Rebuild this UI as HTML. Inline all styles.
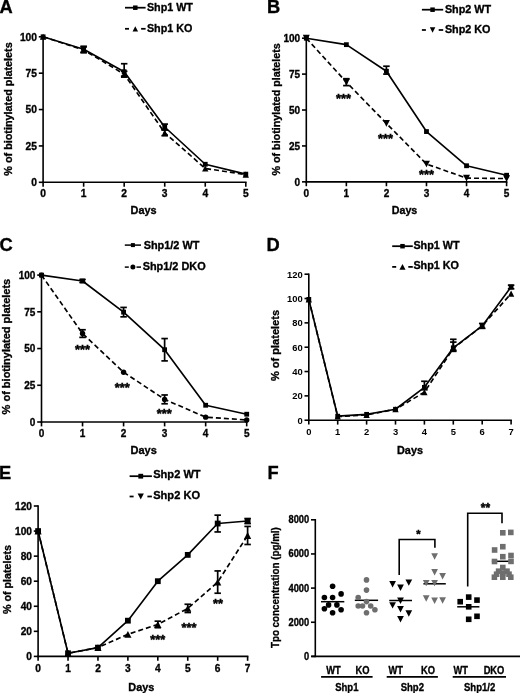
<!DOCTYPE html>
<html><head><meta charset="utf-8"><style>
html,body{margin:0;padding:0;background:#fff;}
svg{display:block;font-family:"Liberation Sans", sans-serif;filter:grayscale(1);}
</style></head><body>
<svg width="520" height="693" viewBox="0 0 520 693">
<rect width="520" height="693" fill="#fff"/>
<line x1="43.10" y1="36.00" x2="43.10" y2="183.10" stroke="#000" stroke-width="1.6"/>
<line x1="42.30" y1="182.30" x2="246.60" y2="182.30" stroke="#000" stroke-width="1.6"/>
<line x1="38.80" y1="182.30" x2="43.10" y2="182.30" stroke="#000" stroke-width="1.6"/>
<text x="37.00" y="186.03" font-size="10.8" text-anchor="end" font-weight="bold" fill="#000" stroke="#000" stroke-width="0.33" textLength="5.71" lengthAdjust="spacingAndGlyphs">0</text>
<line x1="38.80" y1="145.93" x2="43.10" y2="145.93" stroke="#000" stroke-width="1.6"/>
<text x="37.00" y="149.65" font-size="10.8" text-anchor="end" font-weight="bold" fill="#000" stroke="#000" stroke-width="0.33" textLength="11.41" lengthAdjust="spacingAndGlyphs">25</text>
<line x1="38.80" y1="109.55" x2="43.10" y2="109.55" stroke="#000" stroke-width="1.6"/>
<text x="37.00" y="113.28" font-size="10.8" text-anchor="end" font-weight="bold" fill="#000" stroke="#000" stroke-width="0.33" textLength="11.41" lengthAdjust="spacingAndGlyphs">50</text>
<line x1="38.80" y1="73.18" x2="43.10" y2="73.18" stroke="#000" stroke-width="1.6"/>
<text x="37.00" y="76.90" font-size="10.8" text-anchor="end" font-weight="bold" fill="#000" stroke="#000" stroke-width="0.33" textLength="11.41" lengthAdjust="spacingAndGlyphs">75</text>
<line x1="38.80" y1="36.80" x2="43.10" y2="36.80" stroke="#000" stroke-width="1.6"/>
<text x="37.00" y="40.53" font-size="10.8" text-anchor="end" font-weight="bold" fill="#000" stroke="#000" stroke-width="0.33" textLength="17.12" lengthAdjust="spacingAndGlyphs">100</text>
<line x1="43.10" y1="182.30" x2="43.10" y2="186.70" stroke="#000" stroke-width="1.6"/>
<text x="43.10" y="196.70" font-size="10.8" text-anchor="middle" font-weight="bold" fill="#000" stroke="#000" stroke-width="0.33" textLength="5.71" lengthAdjust="spacingAndGlyphs">0</text>
<line x1="83.64" y1="182.30" x2="83.64" y2="186.70" stroke="#000" stroke-width="1.6"/>
<text x="83.64" y="196.70" font-size="10.8" text-anchor="middle" font-weight="bold" fill="#000" stroke="#000" stroke-width="0.33" textLength="5.71" lengthAdjust="spacingAndGlyphs">1</text>
<line x1="124.18" y1="182.30" x2="124.18" y2="186.70" stroke="#000" stroke-width="1.6"/>
<text x="124.18" y="196.70" font-size="10.8" text-anchor="middle" font-weight="bold" fill="#000" stroke="#000" stroke-width="0.33" textLength="5.71" lengthAdjust="spacingAndGlyphs">2</text>
<line x1="164.72" y1="182.30" x2="164.72" y2="186.70" stroke="#000" stroke-width="1.6"/>
<text x="164.72" y="196.70" font-size="10.8" text-anchor="middle" font-weight="bold" fill="#000" stroke="#000" stroke-width="0.33" textLength="5.71" lengthAdjust="spacingAndGlyphs">3</text>
<line x1="205.26" y1="182.30" x2="205.26" y2="186.70" stroke="#000" stroke-width="1.6"/>
<text x="205.26" y="196.70" font-size="10.8" text-anchor="middle" font-weight="bold" fill="#000" stroke="#000" stroke-width="0.33" textLength="5.71" lengthAdjust="spacingAndGlyphs">4</text>
<line x1="245.80" y1="182.30" x2="245.80" y2="186.70" stroke="#000" stroke-width="1.6"/>
<text x="245.80" y="196.70" font-size="10.8" text-anchor="middle" font-weight="bold" fill="#000" stroke="#000" stroke-width="0.33" textLength="5.71" lengthAdjust="spacingAndGlyphs">5</text>
<line x1="83.64" y1="46.26" x2="83.64" y2="52.08" stroke="#000" stroke-width="1.7"/>
<line x1="80.39" y1="46.26" x2="86.89" y2="46.26" stroke="#000" stroke-width="1.7"/>
<line x1="80.39" y1="52.08" x2="86.89" y2="52.08" stroke="#000" stroke-width="1.7"/>
<line x1="124.18" y1="63.72" x2="124.18" y2="76.08" stroke="#000" stroke-width="1.7"/>
<line x1="120.93" y1="63.72" x2="127.43" y2="63.72" stroke="#000" stroke-width="1.7"/>
<line x1="120.93" y1="76.08" x2="127.43" y2="76.08" stroke="#000" stroke-width="1.7"/>
<line x1="164.72" y1="124.10" x2="164.72" y2="129.92" stroke="#000" stroke-width="1.7"/>
<line x1="161.47" y1="124.10" x2="167.97" y2="124.10" stroke="#000" stroke-width="1.7"/>
<line x1="161.47" y1="129.92" x2="167.97" y2="129.92" stroke="#000" stroke-width="1.7"/>
<polyline points="43.10,36.80 83.64,49.17 124.18,71.72 164.72,127.01 205.26,164.26 245.80,174.15" fill="none" stroke="#000" stroke-width="1.65" stroke-linejoin="round"/>
<rect x="40.70" y="34.40" width="4.80" height="4.80" fill="#000"/>
<rect x="81.24" y="46.77" width="4.80" height="4.80" fill="#000"/>
<rect x="121.78" y="69.32" width="4.80" height="4.80" fill="#000"/>
<rect x="162.32" y="124.61" width="4.80" height="4.80" fill="#000"/>
<rect x="202.86" y="161.86" width="4.80" height="4.80" fill="#000"/>
<rect x="243.40" y="171.75" width="4.80" height="4.80" fill="#000"/>
<line x1="83.64" y1="46.99" x2="83.64" y2="52.81" stroke="#000" stroke-width="1.7"/>
<line x1="80.39" y1="46.99" x2="86.89" y2="46.99" stroke="#000" stroke-width="1.7"/>
<line x1="80.39" y1="52.81" x2="86.89" y2="52.81" stroke="#000" stroke-width="1.7"/>
<line x1="124.18" y1="71.28" x2="124.18" y2="77.10" stroke="#000" stroke-width="1.7"/>
<line x1="120.93" y1="71.28" x2="127.43" y2="71.28" stroke="#000" stroke-width="1.7"/>
<line x1="120.93" y1="77.10" x2="127.43" y2="77.10" stroke="#000" stroke-width="1.7"/>
<line x1="164.72" y1="129.92" x2="164.72" y2="135.74" stroke="#000" stroke-width="1.7"/>
<line x1="161.47" y1="129.92" x2="167.97" y2="129.92" stroke="#000" stroke-width="1.7"/>
<line x1="161.47" y1="135.74" x2="167.97" y2="135.74" stroke="#000" stroke-width="1.7"/>
<polyline points="43.10,36.80 83.64,49.90 124.18,74.19 164.72,132.83 205.26,168.48 245.80,174.59" fill="none" stroke="#000" stroke-width="1.65" stroke-linejoin="round" stroke-dasharray="5,3"/>
<polygon points="43.10,33.75 46.28,39.85 39.92,39.85" fill="#000"/>
<polygon points="83.64,46.85 86.82,52.94 80.46,52.94" fill="#000"/>
<polygon points="124.18,71.15 127.36,77.24 121.00,77.24" fill="#000"/>
<polygon points="164.72,129.78 167.90,135.88 161.54,135.88" fill="#000"/>
<polygon points="205.26,165.43 208.44,171.53 202.08,171.53" fill="#000"/>
<polygon points="245.80,171.54 248.98,177.64 242.62,177.64" fill="#000"/>
<text x="11.60" y="109.00" font-size="11.5" text-anchor="middle" font-weight="bold" fill="#000" stroke="#000" stroke-width="0.33" transform="rotate(-90 11.60 109.00)" textLength="133.34" lengthAdjust="spacingAndGlyphs">% of biotinylated platelets</text>
<text x="143.60" y="214.30" font-size="10.9" text-anchor="middle" font-weight="bold" fill="#000" stroke="#000" stroke-width="0.33">Days</text>
<text x="-0.45" y="12.80" font-size="18.3" text-anchor="start" font-weight="bold" fill="#000" stroke="#000" stroke-width="0.33">A</text>
<line x1="125.00" y1="7.70" x2="145.60" y2="7.70" stroke="#000" stroke-width="1.75"/>
<rect x="133.05" y="5.45" width="4.50" height="4.50" fill="#000"/>
<text x="146.90" y="10.60" font-size="11.1" text-anchor="start" font-weight="bold" fill="#000" stroke="#000" stroke-width="0.33" textLength="46.05" lengthAdjust="spacingAndGlyphs">Shp1 WT</text>
<line x1="125.00" y1="28.80" x2="129.00" y2="28.80" stroke="#000" stroke-width="1.75"/>
<line x1="141.10" y1="28.80" x2="145.60" y2="28.80" stroke="#000" stroke-width="1.75"/>
<polygon points="135.30,26.16 138.06,31.45 132.54,31.45" fill="#000"/>
<text x="146.90" y="31.70" font-size="11.1" text-anchor="start" font-weight="bold" fill="#000" stroke="#000" stroke-width="0.33" textLength="45.47" lengthAdjust="spacingAndGlyphs">Shp1 KO</text>
<line x1="306.30" y1="37.40" x2="306.30" y2="182.65" stroke="#000" stroke-width="1.6"/>
<line x1="305.50" y1="181.85" x2="507.40" y2="181.85" stroke="#000" stroke-width="1.6"/>
<line x1="302.00" y1="181.85" x2="306.30" y2="181.85" stroke="#000" stroke-width="1.6"/>
<text x="300.20" y="185.58" font-size="10.8" text-anchor="end" font-weight="bold" fill="#000" stroke="#000" stroke-width="0.33" textLength="5.59" lengthAdjust="spacingAndGlyphs">0</text>
<line x1="302.00" y1="145.94" x2="306.30" y2="145.94" stroke="#000" stroke-width="1.6"/>
<text x="300.20" y="149.66" font-size="10.8" text-anchor="end" font-weight="bold" fill="#000" stroke="#000" stroke-width="0.33" textLength="11.17" lengthAdjust="spacingAndGlyphs">25</text>
<line x1="302.00" y1="110.02" x2="306.30" y2="110.02" stroke="#000" stroke-width="1.6"/>
<text x="300.20" y="113.75" font-size="10.8" text-anchor="end" font-weight="bold" fill="#000" stroke="#000" stroke-width="0.33" textLength="11.17" lengthAdjust="spacingAndGlyphs">50</text>
<line x1="302.00" y1="74.11" x2="306.30" y2="74.11" stroke="#000" stroke-width="1.6"/>
<text x="300.20" y="77.84" font-size="10.8" text-anchor="end" font-weight="bold" fill="#000" stroke="#000" stroke-width="0.33" textLength="11.17" lengthAdjust="spacingAndGlyphs">75</text>
<line x1="302.00" y1="38.20" x2="306.30" y2="38.20" stroke="#000" stroke-width="1.6"/>
<text x="300.20" y="41.93" font-size="10.8" text-anchor="end" font-weight="bold" fill="#000" stroke="#000" stroke-width="0.33" textLength="16.76" lengthAdjust="spacingAndGlyphs">100</text>
<line x1="306.30" y1="181.85" x2="306.30" y2="186.25" stroke="#000" stroke-width="1.6"/>
<text x="306.30" y="196.75" font-size="10.8" text-anchor="middle" font-weight="bold" fill="#000" stroke="#000" stroke-width="0.33" textLength="5.59" lengthAdjust="spacingAndGlyphs">0</text>
<line x1="346.36" y1="181.85" x2="346.36" y2="186.25" stroke="#000" stroke-width="1.6"/>
<text x="346.36" y="196.75" font-size="10.8" text-anchor="middle" font-weight="bold" fill="#000" stroke="#000" stroke-width="0.33" textLength="5.59" lengthAdjust="spacingAndGlyphs">1</text>
<line x1="386.42" y1="181.85" x2="386.42" y2="186.25" stroke="#000" stroke-width="1.6"/>
<text x="386.42" y="196.75" font-size="10.8" text-anchor="middle" font-weight="bold" fill="#000" stroke="#000" stroke-width="0.33" textLength="5.59" lengthAdjust="spacingAndGlyphs">2</text>
<line x1="426.48" y1="181.85" x2="426.48" y2="186.25" stroke="#000" stroke-width="1.6"/>
<text x="426.48" y="196.75" font-size="10.8" text-anchor="middle" font-weight="bold" fill="#000" stroke="#000" stroke-width="0.33" textLength="5.59" lengthAdjust="spacingAndGlyphs">3</text>
<line x1="466.54" y1="181.85" x2="466.54" y2="186.25" stroke="#000" stroke-width="1.6"/>
<text x="466.54" y="196.75" font-size="10.8" text-anchor="middle" font-weight="bold" fill="#000" stroke="#000" stroke-width="0.33" textLength="5.59" lengthAdjust="spacingAndGlyphs">4</text>
<line x1="506.60" y1="181.85" x2="506.60" y2="186.25" stroke="#000" stroke-width="1.6"/>
<text x="506.60" y="196.75" font-size="10.8" text-anchor="middle" font-weight="bold" fill="#000" stroke="#000" stroke-width="0.33" textLength="5.59" lengthAdjust="spacingAndGlyphs">5</text>
<line x1="386.42" y1="66.21" x2="386.42" y2="74.11" stroke="#000" stroke-width="1.7"/>
<line x1="383.17" y1="66.21" x2="389.67" y2="66.21" stroke="#000" stroke-width="1.7"/>
<line x1="383.17" y1="74.11" x2="389.67" y2="74.11" stroke="#000" stroke-width="1.7"/>
<polyline points="306.30,38.20 346.36,44.66 386.42,71.24 426.48,131.57 466.54,165.76 506.60,175.24" fill="none" stroke="#000" stroke-width="1.65" stroke-linejoin="round"/>
<rect x="303.90" y="35.80" width="4.80" height="4.80" fill="#000"/>
<rect x="343.96" y="42.26" width="4.80" height="4.80" fill="#000"/>
<rect x="384.02" y="68.84" width="4.80" height="4.80" fill="#000"/>
<rect x="424.08" y="129.17" width="4.80" height="4.80" fill="#000"/>
<rect x="464.14" y="163.36" width="4.80" height="4.80" fill="#000"/>
<rect x="504.20" y="172.84" width="4.80" height="4.80" fill="#000"/>
<line x1="346.36" y1="78.71" x2="346.36" y2="85.60" stroke="#000" stroke-width="1.7"/>
<line x1="343.11" y1="78.71" x2="349.61" y2="78.71" stroke="#000" stroke-width="1.7"/>
<line x1="343.11" y1="85.60" x2="349.61" y2="85.60" stroke="#000" stroke-width="1.7"/>
<polyline points="306.30,38.20 346.36,82.16 386.42,123.38 426.48,164.04 466.54,178.12 506.60,178.55" fill="none" stroke="#000" stroke-width="1.65" stroke-linejoin="round" stroke-dasharray="5,3"/>
<polygon points="302.82,34.86 309.78,34.86 306.30,41.53" fill="#000"/>
<polygon points="342.88,78.82 349.84,78.82 346.36,85.49" fill="#000"/>
<polygon points="382.94,120.05 389.90,120.05 386.42,126.72" fill="#000"/>
<polygon points="423.00,160.70 429.96,160.70 426.48,167.37" fill="#000"/>
<polygon points="463.06,174.78 470.02,174.78 466.54,181.45" fill="#000"/>
<polygon points="503.12,175.21 510.08,175.21 506.60,181.88" fill="#000"/>
<text x="343.50" y="102.70" font-size="12.8" text-anchor="middle" font-weight="bold" fill="#000" stroke="#000" stroke-width="0.45">***</text>
<text x="385.50" y="142.80" font-size="12.8" text-anchor="middle" font-weight="bold" fill="#000" stroke="#000" stroke-width="0.45">***</text>
<text x="426.50" y="179.20" font-size="12.8" text-anchor="middle" font-weight="bold" fill="#000" stroke="#000" stroke-width="0.45">***</text>
<text x="279.60" y="109.40" font-size="11.4" text-anchor="middle" font-weight="bold" fill="#000" stroke="#000" stroke-width="0.33" transform="rotate(-90 279.60 109.40)" textLength="132.18" lengthAdjust="spacingAndGlyphs">% of biotinylated platelets</text>
<text x="404.50" y="213.80" font-size="10.7" text-anchor="middle" font-weight="bold" fill="#000" stroke="#000" stroke-width="0.33">Days</text>
<text x="267.10" y="12.90" font-size="18.3" text-anchor="start" font-weight="bold" fill="#000" stroke="#000" stroke-width="0.33">B</text>
<line x1="421.90" y1="9.70" x2="443.20" y2="9.70" stroke="#000" stroke-width="1.75"/>
<rect x="430.30" y="7.45" width="4.50" height="4.50" fill="#000"/>
<text x="444.90" y="12.50" font-size="10.8" text-anchor="start" font-weight="bold" fill="#000" stroke="#000" stroke-width="0.33">Shp2 WT</text>
<line x1="421.90" y1="30.00" x2="425.90" y2="30.00" stroke="#000" stroke-width="1.75"/>
<line x1="438.70" y1="30.00" x2="443.20" y2="30.00" stroke="#000" stroke-width="1.75"/>
<polygon points="429.79,27.36 435.31,27.36 432.55,32.64" fill="#000"/>
<text x="444.90" y="32.80" font-size="10.8" text-anchor="start" font-weight="bold" fill="#000" stroke="#000" stroke-width="0.33">Shp2 KO</text>
<line x1="41.50" y1="274.30" x2="41.50" y2="422.80" stroke="#000" stroke-width="1.6"/>
<line x1="40.70" y1="422.00" x2="247.50" y2="422.00" stroke="#000" stroke-width="1.6"/>
<line x1="37.20" y1="422.00" x2="41.50" y2="422.00" stroke="#000" stroke-width="1.6"/>
<text x="35.40" y="425.73" font-size="10.8" text-anchor="end" font-weight="bold" fill="#000" stroke="#000" stroke-width="0.33" textLength="5.59" lengthAdjust="spacingAndGlyphs">0</text>
<line x1="37.20" y1="385.27" x2="41.50" y2="385.27" stroke="#000" stroke-width="1.6"/>
<text x="35.40" y="389.00" font-size="10.8" text-anchor="end" font-weight="bold" fill="#000" stroke="#000" stroke-width="0.33" textLength="11.17" lengthAdjust="spacingAndGlyphs">25</text>
<line x1="37.20" y1="348.55" x2="41.50" y2="348.55" stroke="#000" stroke-width="1.6"/>
<text x="35.40" y="352.28" font-size="10.8" text-anchor="end" font-weight="bold" fill="#000" stroke="#000" stroke-width="0.33" textLength="11.17" lengthAdjust="spacingAndGlyphs">50</text>
<line x1="37.20" y1="311.82" x2="41.50" y2="311.82" stroke="#000" stroke-width="1.6"/>
<text x="35.40" y="315.55" font-size="10.8" text-anchor="end" font-weight="bold" fill="#000" stroke="#000" stroke-width="0.33" textLength="11.17" lengthAdjust="spacingAndGlyphs">75</text>
<line x1="37.20" y1="275.10" x2="41.50" y2="275.10" stroke="#000" stroke-width="1.6"/>
<text x="35.40" y="278.83" font-size="10.8" text-anchor="end" font-weight="bold" fill="#000" stroke="#000" stroke-width="0.33" textLength="16.76" lengthAdjust="spacingAndGlyphs">100</text>
<line x1="41.50" y1="422.00" x2="41.50" y2="426.40" stroke="#000" stroke-width="1.6"/>
<text x="41.50" y="437.20" font-size="10.8" text-anchor="middle" font-weight="bold" fill="#000" stroke="#000" stroke-width="0.33" textLength="5.59" lengthAdjust="spacingAndGlyphs">0</text>
<line x1="82.54" y1="422.00" x2="82.54" y2="426.40" stroke="#000" stroke-width="1.6"/>
<text x="82.54" y="437.20" font-size="10.8" text-anchor="middle" font-weight="bold" fill="#000" stroke="#000" stroke-width="0.33" textLength="5.59" lengthAdjust="spacingAndGlyphs">1</text>
<line x1="123.58" y1="422.00" x2="123.58" y2="426.40" stroke="#000" stroke-width="1.6"/>
<text x="123.58" y="437.20" font-size="10.8" text-anchor="middle" font-weight="bold" fill="#000" stroke="#000" stroke-width="0.33" textLength="5.59" lengthAdjust="spacingAndGlyphs">2</text>
<line x1="164.62" y1="422.00" x2="164.62" y2="426.40" stroke="#000" stroke-width="1.6"/>
<text x="164.62" y="437.20" font-size="10.8" text-anchor="middle" font-weight="bold" fill="#000" stroke="#000" stroke-width="0.33" textLength="5.59" lengthAdjust="spacingAndGlyphs">3</text>
<line x1="205.66" y1="422.00" x2="205.66" y2="426.40" stroke="#000" stroke-width="1.6"/>
<text x="205.66" y="437.20" font-size="10.8" text-anchor="middle" font-weight="bold" fill="#000" stroke="#000" stroke-width="0.33" textLength="5.59" lengthAdjust="spacingAndGlyphs">4</text>
<line x1="246.70" y1="422.00" x2="246.70" y2="426.40" stroke="#000" stroke-width="1.6"/>
<text x="246.70" y="437.20" font-size="10.8" text-anchor="middle" font-weight="bold" fill="#000" stroke="#000" stroke-width="0.33" textLength="5.59" lengthAdjust="spacingAndGlyphs">5</text>
<line x1="82.54" y1="279.51" x2="82.54" y2="282.44" stroke="#000" stroke-width="1.7"/>
<line x1="79.29" y1="279.51" x2="85.79" y2="279.51" stroke="#000" stroke-width="1.7"/>
<line x1="79.29" y1="282.44" x2="85.79" y2="282.44" stroke="#000" stroke-width="1.7"/>
<line x1="123.58" y1="307.42" x2="123.58" y2="316.82" stroke="#000" stroke-width="1.7"/>
<line x1="120.33" y1="307.42" x2="126.83" y2="307.42" stroke="#000" stroke-width="1.7"/>
<line x1="120.33" y1="316.82" x2="126.83" y2="316.82" stroke="#000" stroke-width="1.7"/>
<line x1="164.62" y1="338.56" x2="164.62" y2="360.89" stroke="#000" stroke-width="1.7"/>
<line x1="161.37" y1="338.56" x2="167.87" y2="338.56" stroke="#000" stroke-width="1.7"/>
<line x1="161.37" y1="360.89" x2="167.87" y2="360.89" stroke="#000" stroke-width="1.7"/>
<polyline points="41.50,275.10 82.54,280.98 123.58,312.12 164.62,349.73 205.66,405.25 246.70,414.21" fill="none" stroke="#000" stroke-width="1.65" stroke-linejoin="round"/>
<rect x="39.10" y="272.70" width="4.80" height="4.80" fill="#000"/>
<rect x="80.14" y="278.58" width="4.80" height="4.80" fill="#000"/>
<rect x="121.18" y="309.72" width="4.80" height="4.80" fill="#000"/>
<rect x="162.22" y="347.33" width="4.80" height="4.80" fill="#000"/>
<rect x="203.26" y="402.85" width="4.80" height="4.80" fill="#000"/>
<rect x="244.30" y="411.81" width="4.80" height="4.80" fill="#000"/>
<line x1="82.54" y1="329.75" x2="82.54" y2="337.39" stroke="#000" stroke-width="1.7"/>
<line x1="79.29" y1="329.75" x2="85.79" y2="329.75" stroke="#000" stroke-width="1.7"/>
<line x1="79.29" y1="337.39" x2="85.79" y2="337.39" stroke="#000" stroke-width="1.7"/>
<line x1="164.62" y1="394.97" x2="164.62" y2="403.78" stroke="#000" stroke-width="1.7"/>
<line x1="161.37" y1="394.97" x2="167.87" y2="394.97" stroke="#000" stroke-width="1.7"/>
<line x1="161.37" y1="403.78" x2="167.87" y2="403.78" stroke="#000" stroke-width="1.7"/>
<polyline points="41.50,275.10 82.54,333.57 123.58,372.20 164.62,399.38 205.66,417.15 246.70,419.94" fill="none" stroke="#000" stroke-width="1.65" stroke-linejoin="round" stroke-dasharray="5,3"/>
<circle cx="41.50" cy="275.10" r="2.70" fill="#000"/>
<circle cx="82.54" cy="333.57" r="2.70" fill="#000"/>
<circle cx="123.58" cy="372.20" r="2.70" fill="#000"/>
<circle cx="164.62" cy="399.38" r="2.70" fill="#000"/>
<circle cx="205.66" cy="417.15" r="2.70" fill="#000"/>
<circle cx="246.70" cy="419.94" r="2.70" fill="#000"/>
<text x="82.50" y="353.90" font-size="12.8" text-anchor="middle" font-weight="bold" fill="#000" stroke="#000" stroke-width="0.45">***</text>
<text x="122.20" y="391.70" font-size="12.8" text-anchor="middle" font-weight="bold" fill="#000" stroke="#000" stroke-width="0.45">***</text>
<text x="164.30" y="418.20" font-size="12.8" text-anchor="middle" font-weight="bold" fill="#000" stroke="#000" stroke-width="0.45">***</text>
<text x="10.30" y="346.60" font-size="11.7" text-anchor="middle" font-weight="bold" fill="#000" stroke="#000" stroke-width="0.33" transform="rotate(-90 10.30 346.60)" textLength="135.66" lengthAdjust="spacingAndGlyphs">% of biotinylated platelets</text>
<text x="143.70" y="454.00" font-size="11.0" text-anchor="middle" font-weight="bold" fill="#000" stroke="#000" stroke-width="0.33">Days</text>
<text x="-0.45" y="251.10" font-size="18.3" text-anchor="start" font-weight="bold" fill="#000" stroke="#000" stroke-width="0.33">C</text>
<line x1="124.80" y1="245.10" x2="141.00" y2="245.10" stroke="#000" stroke-width="1.5"/>
<rect x="130.90" y="243.10" width="4.00" height="4.00" fill="#000"/>
<text x="143.70" y="248.70" font-size="10.9" text-anchor="start" font-weight="bold" fill="#000" stroke="#000" stroke-width="0.33">Shp1/2 WT</text>
<line x1="124.80" y1="267.10" x2="128.80" y2="267.10" stroke="#000" stroke-width="1.5"/>
<line x1="136.50" y1="267.10" x2="141.00" y2="267.10" stroke="#000" stroke-width="1.5"/>
<circle cx="132.90" cy="267.10" r="2.50" fill="#000"/>
<text x="142.70" y="270.30" font-size="10.9" text-anchor="start" font-weight="bold" fill="#000" stroke="#000" stroke-width="0.33">Shp1/2 DKO</text>
<line x1="308.80" y1="273.40" x2="308.80" y2="421.00" stroke="#000" stroke-width="1.6"/>
<line x1="308.00" y1="420.20" x2="511.90" y2="420.20" stroke="#000" stroke-width="1.6"/>
<line x1="304.50" y1="420.20" x2="308.80" y2="420.20" stroke="#000" stroke-width="1.6"/>
<text x="302.70" y="423.58" font-size="9.8" text-anchor="end" font-weight="bold" fill="#000" textLength="5.23" lengthAdjust="spacingAndGlyphs">0</text>
<line x1="304.50" y1="395.87" x2="308.80" y2="395.87" stroke="#000" stroke-width="1.6"/>
<text x="302.70" y="399.25" font-size="9.8" text-anchor="end" font-weight="bold" fill="#000" textLength="10.46" lengthAdjust="spacingAndGlyphs">20</text>
<line x1="304.50" y1="371.53" x2="308.80" y2="371.53" stroke="#000" stroke-width="1.6"/>
<text x="302.70" y="374.91" font-size="9.8" text-anchor="end" font-weight="bold" fill="#000" textLength="10.46" lengthAdjust="spacingAndGlyphs">40</text>
<line x1="304.50" y1="347.20" x2="308.80" y2="347.20" stroke="#000" stroke-width="1.6"/>
<text x="302.70" y="350.58" font-size="9.8" text-anchor="end" font-weight="bold" fill="#000" textLength="10.46" lengthAdjust="spacingAndGlyphs">60</text>
<line x1="304.50" y1="322.86" x2="308.80" y2="322.86" stroke="#000" stroke-width="1.6"/>
<text x="302.70" y="326.25" font-size="9.8" text-anchor="end" font-weight="bold" fill="#000" textLength="10.46" lengthAdjust="spacingAndGlyphs">80</text>
<line x1="304.50" y1="298.53" x2="308.80" y2="298.53" stroke="#000" stroke-width="1.6"/>
<text x="302.70" y="301.91" font-size="9.8" text-anchor="end" font-weight="bold" fill="#000" textLength="15.70" lengthAdjust="spacingAndGlyphs">100</text>
<line x1="304.50" y1="274.20" x2="308.80" y2="274.20" stroke="#000" stroke-width="1.6"/>
<text x="302.70" y="277.58" font-size="9.8" text-anchor="end" font-weight="bold" fill="#000" textLength="15.70" lengthAdjust="spacingAndGlyphs">120</text>
<line x1="308.80" y1="420.20" x2="308.80" y2="424.60" stroke="#000" stroke-width="1.6"/>
<text x="308.80" y="434.60" font-size="9.8" text-anchor="middle" font-weight="bold" fill="#000" textLength="5.23" lengthAdjust="spacingAndGlyphs">0</text>
<line x1="337.70" y1="420.20" x2="337.70" y2="424.60" stroke="#000" stroke-width="1.6"/>
<text x="337.70" y="434.60" font-size="9.8" text-anchor="middle" font-weight="bold" fill="#000" textLength="5.23" lengthAdjust="spacingAndGlyphs">1</text>
<line x1="366.60" y1="420.20" x2="366.60" y2="424.60" stroke="#000" stroke-width="1.6"/>
<text x="366.60" y="434.60" font-size="9.8" text-anchor="middle" font-weight="bold" fill="#000" textLength="5.23" lengthAdjust="spacingAndGlyphs">2</text>
<line x1="395.50" y1="420.20" x2="395.50" y2="424.60" stroke="#000" stroke-width="1.6"/>
<text x="395.50" y="434.60" font-size="9.8" text-anchor="middle" font-weight="bold" fill="#000" textLength="5.23" lengthAdjust="spacingAndGlyphs">3</text>
<line x1="424.40" y1="420.20" x2="424.40" y2="424.60" stroke="#000" stroke-width="1.6"/>
<text x="424.40" y="434.60" font-size="9.8" text-anchor="middle" font-weight="bold" fill="#000" textLength="5.23" lengthAdjust="spacingAndGlyphs">4</text>
<line x1="453.30" y1="420.20" x2="453.30" y2="424.60" stroke="#000" stroke-width="1.6"/>
<text x="453.30" y="434.60" font-size="9.8" text-anchor="middle" font-weight="bold" fill="#000" textLength="5.23" lengthAdjust="spacingAndGlyphs">5</text>
<line x1="482.20" y1="420.20" x2="482.20" y2="424.60" stroke="#000" stroke-width="1.6"/>
<text x="482.20" y="434.60" font-size="9.8" text-anchor="middle" font-weight="bold" fill="#000" textLength="5.23" lengthAdjust="spacingAndGlyphs">6</text>
<line x1="511.10" y1="420.20" x2="511.10" y2="424.60" stroke="#000" stroke-width="1.6"/>
<text x="511.10" y="434.60" font-size="9.8" text-anchor="middle" font-weight="bold" fill="#000" textLength="5.23" lengthAdjust="spacingAndGlyphs">7</text>
<line x1="424.40" y1="381.27" x2="424.40" y2="389.78" stroke="#000" stroke-width="1.7"/>
<line x1="421.15" y1="381.27" x2="427.65" y2="381.27" stroke="#000" stroke-width="1.7"/>
<line x1="421.15" y1="389.78" x2="427.65" y2="389.78" stroke="#000" stroke-width="1.7"/>
<line x1="453.30" y1="339.29" x2="453.30" y2="350.24" stroke="#000" stroke-width="1.7"/>
<line x1="450.05" y1="339.29" x2="456.55" y2="339.29" stroke="#000" stroke-width="1.7"/>
<line x1="450.05" y1="350.24" x2="456.55" y2="350.24" stroke="#000" stroke-width="1.7"/>
<line x1="482.20" y1="323.47" x2="482.20" y2="328.34" stroke="#000" stroke-width="1.7"/>
<line x1="478.95" y1="323.47" x2="485.45" y2="323.47" stroke="#000" stroke-width="1.7"/>
<line x1="478.95" y1="328.34" x2="485.45" y2="328.34" stroke="#000" stroke-width="1.7"/>
<line x1="511.10" y1="285.15" x2="511.10" y2="288.80" stroke="#000" stroke-width="1.7"/>
<line x1="507.85" y1="285.15" x2="514.35" y2="285.15" stroke="#000" stroke-width="1.7"/>
<line x1="507.85" y1="288.80" x2="514.35" y2="288.80" stroke="#000" stroke-width="1.7"/>
<polyline points="308.80,299.38 337.70,416.18 366.60,414.36 395.50,409.25 424.40,387.35 453.30,347.81 482.20,325.91 511.10,286.97" fill="none" stroke="#000" stroke-width="1.65" stroke-linejoin="round"/>
<rect x="306.40" y="296.98" width="4.80" height="4.80" fill="#000"/>
<rect x="335.30" y="413.78" width="4.80" height="4.80" fill="#000"/>
<rect x="364.20" y="411.96" width="4.80" height="4.80" fill="#000"/>
<rect x="393.10" y="406.85" width="4.80" height="4.80" fill="#000"/>
<rect x="422.00" y="384.95" width="4.80" height="4.80" fill="#000"/>
<rect x="450.90" y="345.41" width="4.80" height="4.80" fill="#000"/>
<rect x="479.80" y="323.51" width="4.80" height="4.80" fill="#000"/>
<rect x="508.70" y="284.57" width="4.80" height="4.80" fill="#000"/>
<line x1="453.30" y1="342.09" x2="453.30" y2="351.33" stroke="#000" stroke-width="1.7"/>
<line x1="450.05" y1="342.09" x2="456.55" y2="342.09" stroke="#000" stroke-width="1.7"/>
<line x1="450.05" y1="351.33" x2="456.55" y2="351.33" stroke="#000" stroke-width="1.7"/>
<polyline points="308.80,299.38 337.70,416.55 366.60,414.97 395.50,409.25 424.40,392.22 453.30,348.41 482.20,325.91 511.10,293.66" fill="none" stroke="#000" stroke-width="1.65" stroke-linejoin="round" stroke-dasharray="5,3"/>
<polygon points="308.80,296.33 311.98,302.43 305.62,302.43" fill="#000"/>
<polygon points="337.70,413.50 340.88,419.60 334.52,419.60" fill="#000"/>
<polygon points="366.60,411.92 369.78,418.02 363.42,418.02" fill="#000"/>
<polygon points="395.50,406.20 398.68,412.30 392.32,412.30" fill="#000"/>
<polygon points="424.40,389.17 427.58,395.26 421.22,395.26" fill="#000"/>
<polygon points="453.30,345.37 456.48,351.46 450.12,351.46" fill="#000"/>
<polygon points="482.20,322.86 485.38,328.95 479.02,328.95" fill="#000"/>
<polygon points="511.10,290.62 514.28,296.71 507.92,296.71" fill="#000"/>
<text x="278.50" y="345.50" font-size="11.6" text-anchor="middle" font-weight="bold" fill="#000" stroke="#000" stroke-width="0.33" transform="rotate(-90 278.50 345.50)" textLength="71.03" lengthAdjust="spacingAndGlyphs">% of platelets</text>
<text x="410.00" y="454.00" font-size="10.85" text-anchor="middle" font-weight="bold" fill="#000" stroke="#000" stroke-width="0.33">Days</text>
<text x="266.60" y="250.90" font-size="18.3" text-anchor="start" font-weight="bold" fill="#000" stroke="#000" stroke-width="0.33">D</text>
<line x1="392.20" y1="246.20" x2="412.80" y2="246.20" stroke="#000" stroke-width="1.75"/>
<rect x="400.25" y="243.95" width="4.50" height="4.50" fill="#000"/>
<text x="413.40" y="248.70" font-size="10.8" text-anchor="start" font-weight="bold" fill="#000" stroke="#000" stroke-width="0.33">Shp1 WT</text>
<line x1="392.20" y1="266.90" x2="396.20" y2="266.90" stroke="#000" stroke-width="1.75"/>
<line x1="408.30" y1="266.90" x2="412.80" y2="266.90" stroke="#000" stroke-width="1.75"/>
<polygon points="402.50,263.97 405.56,269.83 399.44,269.83" fill="#000"/>
<text x="413.40" y="269.40" font-size="10.8" text-anchor="start" font-weight="bold" fill="#000" stroke="#000" stroke-width="0.33">Shp1 KO</text>
<line x1="38.10" y1="505.20" x2="38.10" y2="657.20" stroke="#000" stroke-width="1.6"/>
<line x1="37.30" y1="656.40" x2="248.41" y2="656.40" stroke="#000" stroke-width="1.6"/>
<line x1="33.80" y1="656.40" x2="38.10" y2="656.40" stroke="#000" stroke-width="1.6"/>
<text x="32.00" y="660.06" font-size="10.6" text-anchor="end" font-weight="bold" fill="#000" stroke="#000" stroke-width="0.33" textLength="5.66" lengthAdjust="spacingAndGlyphs">0</text>
<line x1="33.80" y1="631.33" x2="38.10" y2="631.33" stroke="#000" stroke-width="1.6"/>
<text x="32.00" y="634.99" font-size="10.6" text-anchor="end" font-weight="bold" fill="#000" stroke="#000" stroke-width="0.33" textLength="11.32" lengthAdjust="spacingAndGlyphs">20</text>
<line x1="33.80" y1="606.27" x2="38.10" y2="606.27" stroke="#000" stroke-width="1.6"/>
<text x="32.00" y="609.93" font-size="10.6" text-anchor="end" font-weight="bold" fill="#000" stroke="#000" stroke-width="0.33" textLength="11.32" lengthAdjust="spacingAndGlyphs">40</text>
<line x1="33.80" y1="581.20" x2="38.10" y2="581.20" stroke="#000" stroke-width="1.6"/>
<text x="32.00" y="584.86" font-size="10.6" text-anchor="end" font-weight="bold" fill="#000" stroke="#000" stroke-width="0.33" textLength="11.32" lengthAdjust="spacingAndGlyphs">60</text>
<line x1="33.80" y1="556.14" x2="38.10" y2="556.14" stroke="#000" stroke-width="1.6"/>
<text x="32.00" y="559.79" font-size="10.6" text-anchor="end" font-weight="bold" fill="#000" stroke="#000" stroke-width="0.33" textLength="11.32" lengthAdjust="spacingAndGlyphs">80</text>
<line x1="33.80" y1="531.07" x2="38.10" y2="531.07" stroke="#000" stroke-width="1.6"/>
<text x="32.00" y="534.73" font-size="10.6" text-anchor="end" font-weight="bold" fill="#000" stroke="#000" stroke-width="0.33" textLength="16.98" lengthAdjust="spacingAndGlyphs">100</text>
<line x1="33.80" y1="506.00" x2="38.10" y2="506.00" stroke="#000" stroke-width="1.6"/>
<text x="32.00" y="509.66" font-size="10.6" text-anchor="end" font-weight="bold" fill="#000" stroke="#000" stroke-width="0.33" textLength="16.98" lengthAdjust="spacingAndGlyphs">120</text>
<line x1="38.10" y1="656.40" x2="38.10" y2="660.80" stroke="#000" stroke-width="1.6"/>
<text x="38.10" y="671.50" font-size="10.6" text-anchor="middle" font-weight="bold" fill="#000" stroke="#000" stroke-width="0.33" textLength="5.66" lengthAdjust="spacingAndGlyphs">0</text>
<line x1="68.03" y1="656.40" x2="68.03" y2="660.80" stroke="#000" stroke-width="1.6"/>
<text x="68.03" y="671.50" font-size="10.6" text-anchor="middle" font-weight="bold" fill="#000" stroke="#000" stroke-width="0.33" textLength="5.66" lengthAdjust="spacingAndGlyphs">1</text>
<line x1="97.96" y1="656.40" x2="97.96" y2="660.80" stroke="#000" stroke-width="1.6"/>
<text x="97.96" y="671.50" font-size="10.6" text-anchor="middle" font-weight="bold" fill="#000" stroke="#000" stroke-width="0.33" textLength="5.66" lengthAdjust="spacingAndGlyphs">2</text>
<line x1="127.89" y1="656.40" x2="127.89" y2="660.80" stroke="#000" stroke-width="1.6"/>
<text x="127.89" y="671.50" font-size="10.6" text-anchor="middle" font-weight="bold" fill="#000" stroke="#000" stroke-width="0.33" textLength="5.66" lengthAdjust="spacingAndGlyphs">3</text>
<line x1="157.82" y1="656.40" x2="157.82" y2="660.80" stroke="#000" stroke-width="1.6"/>
<text x="157.82" y="671.50" font-size="10.6" text-anchor="middle" font-weight="bold" fill="#000" stroke="#000" stroke-width="0.33" textLength="5.66" lengthAdjust="spacingAndGlyphs">4</text>
<line x1="187.75" y1="656.40" x2="187.75" y2="660.80" stroke="#000" stroke-width="1.6"/>
<text x="187.75" y="671.50" font-size="10.6" text-anchor="middle" font-weight="bold" fill="#000" stroke="#000" stroke-width="0.33" textLength="5.66" lengthAdjust="spacingAndGlyphs">5</text>
<line x1="217.68" y1="656.40" x2="217.68" y2="660.80" stroke="#000" stroke-width="1.6"/>
<text x="217.68" y="671.50" font-size="10.6" text-anchor="middle" font-weight="bold" fill="#000" stroke="#000" stroke-width="0.33" textLength="5.66" lengthAdjust="spacingAndGlyphs">6</text>
<line x1="247.61" y1="656.40" x2="247.61" y2="660.80" stroke="#000" stroke-width="1.6"/>
<text x="247.61" y="671.50" font-size="10.6" text-anchor="middle" font-weight="bold" fill="#000" stroke="#000" stroke-width="0.33" textLength="5.66" lengthAdjust="spacingAndGlyphs">7</text>
<line x1="217.68" y1="515.15" x2="217.68" y2="531.95" stroke="#000" stroke-width="1.7"/>
<line x1="214.43" y1="515.15" x2="220.93" y2="515.15" stroke="#000" stroke-width="1.7"/>
<line x1="214.43" y1="531.95" x2="220.93" y2="531.95" stroke="#000" stroke-width="1.7"/>
<line x1="247.61" y1="518.54" x2="247.61" y2="523.55" stroke="#000" stroke-width="1.7"/>
<line x1="244.36" y1="518.54" x2="250.86" y2="518.54" stroke="#000" stroke-width="1.7"/>
<line x1="244.36" y1="523.55" x2="250.86" y2="523.55" stroke="#000" stroke-width="1.7"/>
<polyline points="38.10,531.07 68.03,653.27 97.96,647.63 127.89,620.68 157.82,581.20 187.75,554.88 217.68,523.55 247.61,521.04" fill="none" stroke="#000" stroke-width="1.65" stroke-linejoin="round"/>
<rect x="35.20" y="528.17" width="5.80" height="5.80" fill="#000"/>
<rect x="65.13" y="650.37" width="5.80" height="5.80" fill="#000"/>
<rect x="95.06" y="644.73" width="5.80" height="5.80" fill="#000"/>
<rect x="124.99" y="617.78" width="5.80" height="5.80" fill="#000"/>
<rect x="154.92" y="578.30" width="5.80" height="5.80" fill="#000"/>
<rect x="184.85" y="551.98" width="5.80" height="5.80" fill="#000"/>
<rect x="214.78" y="520.65" width="5.80" height="5.80" fill="#000"/>
<rect x="244.71" y="518.14" width="5.80" height="5.80" fill="#000"/>
<line x1="157.82" y1="621.18" x2="157.82" y2="627.70" stroke="#000" stroke-width="1.7"/>
<line x1="154.57" y1="621.18" x2="161.07" y2="621.18" stroke="#000" stroke-width="1.7"/>
<line x1="154.57" y1="627.70" x2="161.07" y2="627.70" stroke="#000" stroke-width="1.7"/>
<line x1="187.75" y1="604.26" x2="187.75" y2="612.53" stroke="#000" stroke-width="1.7"/>
<line x1="184.50" y1="604.26" x2="191.00" y2="604.26" stroke="#000" stroke-width="1.7"/>
<line x1="184.50" y1="612.53" x2="191.00" y2="612.53" stroke="#000" stroke-width="1.7"/>
<line x1="217.68" y1="570.92" x2="217.68" y2="593.23" stroke="#000" stroke-width="1.7"/>
<line x1="214.43" y1="570.92" x2="220.93" y2="570.92" stroke="#000" stroke-width="1.7"/>
<line x1="214.43" y1="593.23" x2="220.93" y2="593.23" stroke="#000" stroke-width="1.7"/>
<line x1="247.61" y1="526.43" x2="247.61" y2="544.48" stroke="#000" stroke-width="1.7"/>
<line x1="244.36" y1="526.43" x2="250.86" y2="526.43" stroke="#000" stroke-width="1.7"/>
<line x1="244.36" y1="544.48" x2="250.86" y2="544.48" stroke="#000" stroke-width="1.7"/>
<polyline points="38.10,531.07 68.03,653.27 97.96,647.63 127.89,634.34 157.82,624.44 187.75,608.40 217.68,582.08 247.61,535.46" fill="none" stroke="#000" stroke-width="1.65" stroke-linejoin="round" stroke-dasharray="5,3"/>
<polygon points="38.10,527.62 41.70,534.52 34.50,534.52" fill="#000"/>
<polygon points="68.03,649.82 71.63,656.72 64.43,656.72" fill="#000"/>
<polygon points="97.96,644.18 101.56,651.08 94.36,651.08" fill="#000"/>
<polygon points="127.89,630.89 131.49,637.79 124.29,637.79" fill="#000"/>
<polygon points="157.82,620.99 161.42,627.89 154.22,627.89" fill="#000"/>
<polygon points="187.75,604.95 191.35,611.85 184.15,611.85" fill="#000"/>
<polygon points="217.68,578.63 221.28,585.53 214.08,585.53" fill="#000"/>
<polygon points="247.61,532.01 251.21,538.91 244.01,538.91" fill="#000"/>
<text x="157.70" y="644.20" font-size="12.8" text-anchor="middle" font-weight="bold" fill="#000" stroke="#000" stroke-width="0.45">***</text>
<text x="188.90" y="632.00" font-size="12.8" text-anchor="middle" font-weight="bold" fill="#000" stroke="#000" stroke-width="0.45">***</text>
<text x="218.10" y="607.70" font-size="12.8" text-anchor="middle" font-weight="bold" fill="#000" stroke="#000" stroke-width="0.45">**</text>
<text x="11.00" y="579.50" font-size="11.4" text-anchor="middle" font-weight="bold" fill="#000" stroke="#000" stroke-width="0.33" transform="rotate(-90 11.00 579.50)" textLength="69.07" lengthAdjust="spacingAndGlyphs">% of platelets</text>
<text x="141.30" y="690.90" font-size="10.9" text-anchor="middle" font-weight="bold" fill="#000" stroke="#000" stroke-width="0.33">Days</text>
<text x="-0.90" y="478.80" font-size="18.3" text-anchor="start" font-weight="bold" fill="#000" stroke="#000" stroke-width="0.33">E</text>
<line x1="129.60" y1="476.20" x2="151.90" y2="476.20" stroke="#000" stroke-width="1.75"/>
<rect x="138.35" y="473.80" width="4.80" height="4.80" fill="#000"/>
<text x="153.20" y="478.30" font-size="11.1" text-anchor="start" font-weight="bold" fill="#000" stroke="#000" stroke-width="0.33">Shp2 WT</text>
<line x1="129.60" y1="496.50" x2="133.60" y2="496.50" stroke="#000" stroke-width="1.75"/>
<line x1="147.40" y1="496.50" x2="151.90" y2="496.50" stroke="#000" stroke-width="1.75"/>
<polygon points="137.63,493.51 143.87,493.51 140.75,499.49" fill="#000"/>
<text x="153.20" y="498.60" font-size="11.1" text-anchor="start" font-weight="bold" fill="#000" stroke="#000" stroke-width="0.33">Shp2 KO</text>
<line x1="315.30" y1="519.00" x2="315.30" y2="657.20" stroke="#000" stroke-width="1.6"/>
<line x1="311.30" y1="656.40" x2="520.00" y2="656.40" stroke="#000" stroke-width="1.6"/>
<line x1="311.00" y1="656.40" x2="315.30" y2="656.40" stroke="#000" stroke-width="1.6"/>
<text x="309.20" y="659.90" font-size="10.0" text-anchor="end" font-weight="bold" fill="#000" stroke="#000" stroke-width="0.33" textLength="5.17" lengthAdjust="spacingAndGlyphs">0</text>
<line x1="311.00" y1="622.25" x2="315.30" y2="622.25" stroke="#000" stroke-width="1.6"/>
<text x="309.20" y="625.75" font-size="10.0" text-anchor="end" font-weight="bold" fill="#000" stroke="#000" stroke-width="0.33" textLength="20.69" lengthAdjust="spacingAndGlyphs">2000</text>
<line x1="311.00" y1="588.10" x2="315.30" y2="588.10" stroke="#000" stroke-width="1.6"/>
<text x="309.20" y="591.60" font-size="10.0" text-anchor="end" font-weight="bold" fill="#000" stroke="#000" stroke-width="0.33" textLength="20.69" lengthAdjust="spacingAndGlyphs">4000</text>
<line x1="311.00" y1="553.95" x2="315.30" y2="553.95" stroke="#000" stroke-width="1.6"/>
<text x="309.20" y="557.45" font-size="10.0" text-anchor="end" font-weight="bold" fill="#000" stroke="#000" stroke-width="0.33" textLength="20.69" lengthAdjust="spacingAndGlyphs">6000</text>
<line x1="311.00" y1="519.80" x2="315.30" y2="519.80" stroke="#000" stroke-width="1.6"/>
<text x="309.20" y="523.30" font-size="10.0" text-anchor="end" font-weight="bold" fill="#000" stroke="#000" stroke-width="0.33" textLength="20.69" lengthAdjust="spacingAndGlyphs">8000</text>
<text x="279.30" y="587.60" font-size="10.6" text-anchor="middle" font-weight="bold" fill="#000" stroke="#000" stroke-width="0.33" transform="rotate(-90 279.30 587.60)" textLength="120.92" lengthAdjust="spacingAndGlyphs">Tpo concentration (pg/ml)</text>
<text x="267.40" y="479.30" font-size="18.3" text-anchor="start" font-weight="bold" fill="#000" stroke="#000" stroke-width="0.33">F</text>
<line x1="321.00" y1="601.70" x2="344.30" y2="601.70" stroke="#000" stroke-width="1.5"/>
<line x1="354.80" y1="600.30" x2="378.10" y2="600.30" stroke="#000" stroke-width="1.5"/>
<line x1="389.20" y1="600.50" x2="412.00" y2="600.50" stroke="#000" stroke-width="1.5"/>
<line x1="423.40" y1="583.80" x2="445.80" y2="583.80" stroke="#000" stroke-width="1.5"/>
<line x1="457.20" y1="606.80" x2="479.40" y2="606.80" stroke="#000" stroke-width="1.5"/>
<line x1="491.90" y1="561.30" x2="512.70" y2="561.30" stroke="#000" stroke-width="1.5"/>
<circle cx="332.60" cy="586.30" r="2.80" fill="#000"/>
<circle cx="324.40" cy="597.50" r="2.80" fill="#000"/>
<circle cx="332.60" cy="597.50" r="2.80" fill="#000"/>
<circle cx="341.10" cy="593.90" r="2.80" fill="#000"/>
<circle cx="324.40" cy="608.70" r="2.80" fill="#000"/>
<circle cx="328.60" cy="604.90" r="2.80" fill="#000"/>
<circle cx="336.90" cy="604.90" r="2.80" fill="#000"/>
<circle cx="341.10" cy="609.80" r="2.80" fill="#000"/>
<circle cx="332.60" cy="612.70" r="2.80" fill="#000"/>
<circle cx="366.50" cy="579.90" r="2.80" fill="#6e6e6e"/>
<circle cx="366.50" cy="590.10" r="2.80" fill="#6e6e6e"/>
<circle cx="358.20" cy="597.50" r="2.80" fill="#6e6e6e"/>
<circle cx="366.50" cy="601.60" r="2.80" fill="#6e6e6e"/>
<circle cx="358.20" cy="606.00" r="2.80" fill="#6e6e6e"/>
<circle cx="362.50" cy="606.00" r="2.80" fill="#6e6e6e"/>
<circle cx="370.70" cy="606.00" r="2.80" fill="#6e6e6e"/>
<circle cx="374.90" cy="609.80" r="2.80" fill="#6e6e6e"/>
<circle cx="366.50" cy="612.70" r="2.80" fill="#6e6e6e"/>
<polygon points="389.24,580.98 395.96,580.98 392.60,587.42" fill="#000"/>
<polygon points="397.14,584.48 403.86,584.48 400.50,590.92" fill="#000"/>
<polygon points="405.44,579.38 412.16,579.38 408.80,585.82" fill="#000"/>
<polygon points="389.24,602.18 395.96,602.18 392.60,608.62" fill="#000"/>
<polygon points="397.14,597.58 403.86,597.58 400.50,604.02" fill="#000"/>
<polygon points="397.14,605.98 403.86,605.98 400.50,612.42" fill="#000"/>
<polygon points="405.44,610.28 412.16,610.28 408.80,616.72" fill="#000"/>
<polygon points="397.14,615.98 403.86,615.98 400.50,622.42" fill="#000"/>
<polygon points="431.24,553.28 437.96,553.28 434.60,559.72" fill="#6e6e6e"/>
<polygon points="431.24,569.08 437.96,569.08 434.60,575.52" fill="#6e6e6e"/>
<polygon points="439.24,572.98 445.96,572.98 442.60,579.42" fill="#6e6e6e"/>
<polygon points="422.84,579.88 429.56,579.88 426.20,586.32" fill="#6e6e6e"/>
<polygon points="431.24,579.88 437.96,579.88 434.60,586.32" fill="#6e6e6e"/>
<polygon points="422.84,595.28 429.56,595.28 426.20,601.72" fill="#6e6e6e"/>
<polygon points="431.24,597.58 437.96,597.58 434.60,604.02" fill="#6e6e6e"/>
<polygon points="439.24,597.28 445.96,597.28 442.60,603.72" fill="#6e6e6e"/>
<rect x="465.90" y="594.30" width="5.60" height="5.60" fill="#000"/>
<rect x="457.40" y="598.90" width="5.60" height="5.60" fill="#000"/>
<rect x="474.20" y="597.30" width="5.60" height="5.60" fill="#000"/>
<rect x="465.90" y="604.00" width="5.60" height="5.60" fill="#000"/>
<rect x="474.20" y="613.50" width="5.60" height="5.60" fill="#000"/>
<rect x="465.90" y="616.50" width="5.60" height="5.60" fill="#000"/>
<rect x="500.00" y="530.00" width="5.60" height="5.60" fill="#6e6e6e"/>
<rect x="508.00" y="529.60" width="5.60" height="5.60" fill="#6e6e6e"/>
<rect x="500.00" y="543.90" width="5.60" height="5.60" fill="#6e6e6e"/>
<rect x="491.80" y="547.20" width="5.60" height="5.60" fill="#6e6e6e"/>
<rect x="500.00" y="553.90" width="5.60" height="5.60" fill="#6e6e6e"/>
<rect x="508.20" y="552.70" width="5.60" height="5.60" fill="#6e6e6e"/>
<rect x="508.20" y="558.60" width="5.60" height="5.60" fill="#6e6e6e"/>
<rect x="491.70" y="558.70" width="5.60" height="5.60" fill="#6e6e6e"/>
<rect x="500.00" y="564.70" width="5.60" height="5.60" fill="#6e6e6e"/>
<rect x="495.80" y="568.40" width="5.60" height="5.60" fill="#6e6e6e"/>
<rect x="504.20" y="568.40" width="5.60" height="5.60" fill="#6e6e6e"/>
<rect x="500.00" y="570.20" width="5.60" height="5.60" fill="#6e6e6e"/>
<rect x="493.80" y="571.40" width="5.60" height="5.60" fill="#6e6e6e"/>
<rect x="506.20" y="571.40" width="5.60" height="5.60" fill="#6e6e6e"/>
<rect x="491.60" y="574.40" width="5.60" height="5.60" fill="#6e6e6e"/>
<rect x="500.00" y="574.40" width="5.60" height="5.60" fill="#6e6e6e"/>
<rect x="508.00" y="574.40" width="5.60" height="5.60" fill="#6e6e6e"/>
<polyline points="399.2,574.9 399.2,539.5 434.9,539.5 434.9,547.8" fill="none" stroke="#000" stroke-width="1.6"/>
<polyline points="467.7,586.6 467.7,513.2 502,513.2 502,523.2" fill="none" stroke="#000" stroke-width="1.6"/>
<text x="418.50" y="538.30" font-size="11.2" text-anchor="middle" font-weight="bold" fill="#000" stroke="#000" stroke-width="0.45">*</text>
<text x="485.50" y="512.00" font-size="12" text-anchor="middle" font-weight="bold" fill="#000" stroke="#000" stroke-width="0.45">**</text>
<text x="333.50" y="673.50" font-size="10.6" text-anchor="middle" font-weight="bold" fill="#000" stroke="#000" stroke-width="0.33" textLength="14.50" lengthAdjust="spacingAndGlyphs">WT</text>
<text x="362.40" y="673.50" font-size="10.6" text-anchor="middle" font-weight="bold" fill="#000" stroke="#000" stroke-width="0.33" textLength="13.99" lengthAdjust="spacingAndGlyphs">KO</text>
<text x="395.80" y="673.50" font-size="10.6" text-anchor="middle" font-weight="bold" fill="#000" stroke="#000" stroke-width="0.33" textLength="14.50" lengthAdjust="spacingAndGlyphs">WT</text>
<text x="428.00" y="673.50" font-size="10.6" text-anchor="middle" font-weight="bold" fill="#000" stroke="#000" stroke-width="0.33" textLength="13.99" lengthAdjust="spacingAndGlyphs">KO</text>
<text x="460.80" y="673.50" font-size="10.6" text-anchor="middle" font-weight="bold" fill="#000" stroke="#000" stroke-width="0.33" textLength="14.50" lengthAdjust="spacingAndGlyphs">WT</text>
<text x="494.00" y="673.50" font-size="10.6" text-anchor="middle" font-weight="bold" fill="#000" stroke="#000" stroke-width="0.33" textLength="20.73" lengthAdjust="spacingAndGlyphs">DKO</text>
<line x1="321.10" y1="676.90" x2="372.60" y2="676.90" stroke="#000" stroke-width="1.6"/>
<line x1="386.70" y1="676.90" x2="437.90" y2="676.90" stroke="#000" stroke-width="1.6"/>
<line x1="452.70" y1="676.90" x2="506.00" y2="676.90" stroke="#000" stroke-width="1.6"/>
<text x="346.80" y="690.50" font-size="10.6" text-anchor="middle" font-weight="bold" fill="#000" stroke="#000" stroke-width="0.33" textLength="23.32" lengthAdjust="spacingAndGlyphs">Shp1</text>
<text x="412.30" y="690.50" font-size="10.6" text-anchor="middle" font-weight="bold" fill="#000" stroke="#000" stroke-width="0.33" textLength="23.32" lengthAdjust="spacingAndGlyphs">Shp2</text>
<text x="479.60" y="690.50" font-size="10.6" text-anchor="middle" font-weight="bold" fill="#000" stroke="#000" stroke-width="0.33" textLength="31.28" lengthAdjust="spacingAndGlyphs">Shp1/2</text>
</svg>
</body></html>
